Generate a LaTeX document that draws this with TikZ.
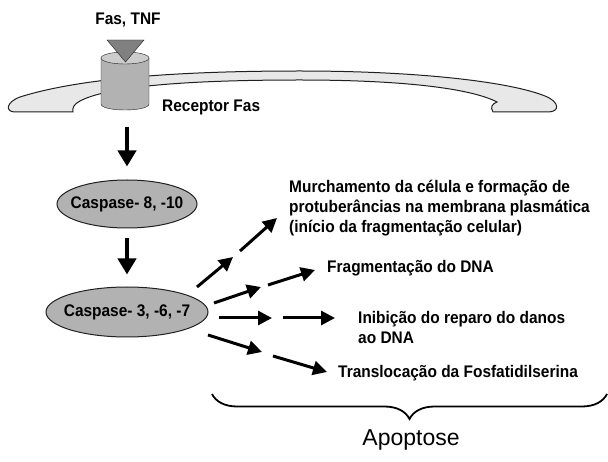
\documentclass[tikz,border=0pt]{standalone}
\usepackage{fontspec}
\setmainfont{Liberation Sans}
\newfontfamily\narrowfont[FakeStretch=0.92]{Liberation Sans}
\usepackage{tikz}
\usetikzlibrary{arrows.meta,positioning,calc,shapes.geometric,decorations.pathreplacing}
\newcommand{\lbl}{\narrowfont\fontsize{16.8}{20}\selectfont\bfseries}
\tikzstyle{membrane}=[fill=gray!18,draw=gray!25!black,line width=1pt]
\tikzstyle{caspase}=[draw=gray!25!black,ellipse,fill=gray!60,line width=1pt,inner sep=0pt]
\tikzstyle{effect}=[anchor=west,align=left,font=\lbl,inner sep=0pt]
\tikzstyle{bigarrow}=[line width=4pt,-{Triangle[length=16pt,width=18pt]}]
\tikzstyle{smallarrow}=[line width=3pt,-{Triangle[length=14pt,width=14pt]}]

\begin{document}
\begin{tikzpicture}[x=1pt,y=-1pt]
    \useasboundingbox (0,0) rectangle (608,462);
    % membrana
    \draw[membrane] (20,97) .. controls (80,78) and (180,71) .. (300,71)
      .. controls (420,71) and (510,82) .. (545,96)
      .. controls (560,102) and (560,112) .. (548,112) -- (493,112)
      .. controls (490,107) and (492,104) .. (497,102)
      .. controls (470,88) and (400,80) .. (300,80)
      .. controls (200,80) and (110,85) .. (80,101)
      .. controls (74,104) and (72,108) .. (73,112) -- (15,112)
      .. controls (5,112) and (6,102) .. (20,97) -- cycle;
    % receptor
    \filldraw[fill=gray!60,draw=gray!25!black] (101,58) -- (101,104)
      .. controls (101,112) and (149,112) .. (149,104) -- (149,58) -- cycle;
    \filldraw[fill=gray!40,draw=gray!25!black] (125,58) ellipse [x radius=24,y radius=6];
    \filldraw[fill=gray,draw=gray!25!black] (107,40) -- (144,40) -- (125.5,62) -- cycle;
    \coordinate (cyl) at (127,110);
    \node[font=\lbl] (fas) at (128,20) {Fas, TNF};
    \node[effect] (recfas) at (162,107) {Receptor Fas};
    % caspases
    \node[caspase,minimum width=140pt,minimum height=48pt,
      label={[font=\lbl]center:{Caspase- 8, -10}}] (casp8) at (127,204) {};
    \node[caspase,minimum width=162pt,minimum height=50pt,
      label={[font=\lbl]center:{Caspase- 3, -6, -7}}] (casp3) at (127,312) {};
    \draw[bigarrow,shorten <=17pt,shorten >=13pt] (cyl) -- (casp8);
    \draw[bigarrow,shorten <=10pt,shorten >=12pt] (casp8) -- (casp3);
    % efeitos
    \node[effect] (murch) at (289,208) {Murchamento da célula e formação de\\protuberâncias na membrana plasmática\\(início da fragmentação celular)};
    \node[effect] (frag) at (327,268) {Fragmentação do DNA};
    \node[effect] (inib) at (358,327) {Inibição do reparo do danos\\ao DNA};
    \node[effect] (transl) at (338,373) {Translocação da Fosfatidilserina};
    \coordinate (a0) at (197,287);
    \coordinate (a1) at (233,257);
    \coordinate (a2) at (240,251);
    \coordinate (a3) at (277,218);
    \coordinate (b0) at (214,303);
    \coordinate (b1) at (261,287);
    \coordinate (b2) at (268,285);
    \coordinate (b3) at (315,270);
    \coordinate (c0) at (219,318);
    \coordinate (c1) at (272,318);
    \coordinate (c2) at (283,318);
    \coordinate (c3) at (335,318);
    \coordinate (d0) at (208,335);
    \coordinate (d1) at (262,352);
    \coordinate (d2) at (273,356);
    \coordinate (d3) at (327,372);
    \draw[smallarrow] (a0) -- (a1);
    \draw[smallarrow] (a2) -- (a3);
    \draw[smallarrow] (b0) -- (b1);
    \draw[smallarrow] (b2) -- (b3);
    \draw[smallarrow] (c0) -- (c1);
    \draw[smallarrow] (c2) -- (c3);
    \draw[smallarrow] (d0) -- (d1);
    \draw[smallarrow] (d2) -- (d3);
    % chave
    \coordinate (bl) at (212,394);
    \coordinate (br) at (607,394);
    \draw[line width=1.8pt,decorate,decoration={brace,amplitude=25pt}] (br) -- (bl);
    \node[font=\fontsize{23}{26}\selectfont] (apop) at (411,440) {Apoptose};
\end{tikzpicture}
\end{document}
